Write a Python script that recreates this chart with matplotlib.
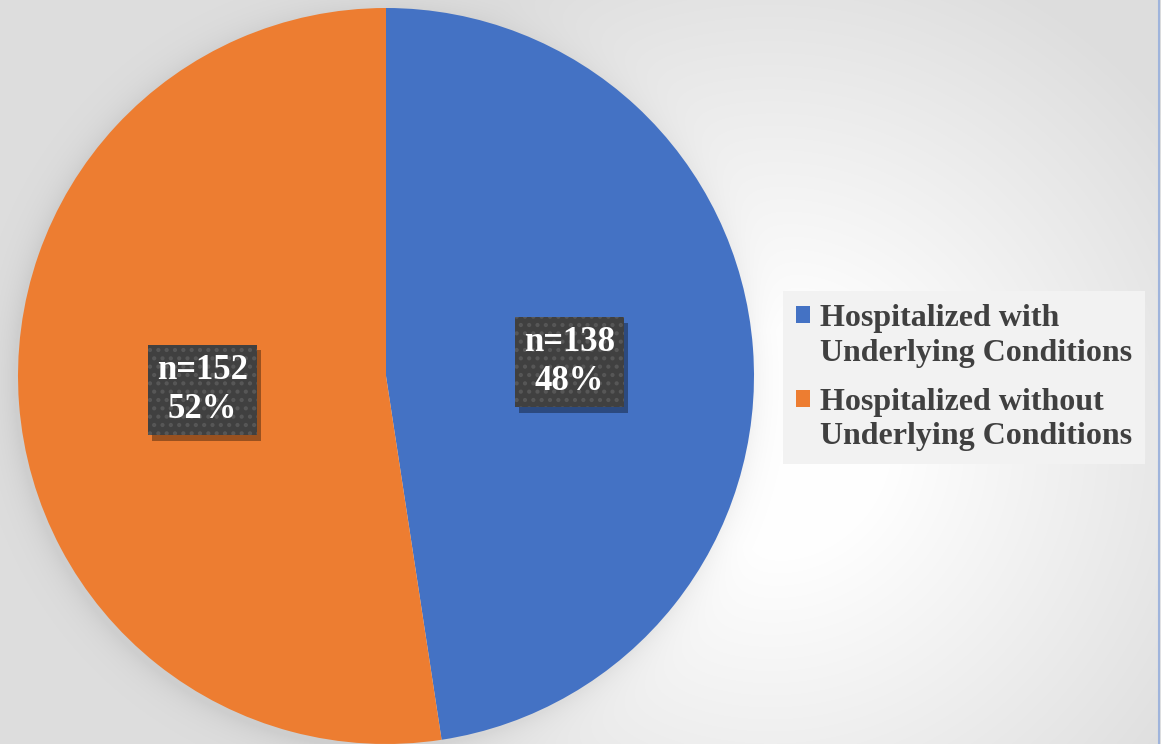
import numpy as np
import matplotlib
matplotlib.use("Agg")
import matplotlib.pyplot as plt
import matplotlib.patheffects as pe
from matplotlib.patches import Rectangle
from matplotlib.legend_handler import HandlerPatch

# data
labels = ["Hospitalized with\nUnderlying Conditions",
          "Hospitalized without\nUnderlying Conditions"]
counts = [138, 152]
colors = ["#4472C4", "#ED7D31"]

plt.rcParams["font.family"] = ["Liberation Serif", "DejaVu Serif"]
plt.rcParams["hatch.linewidth"] = 1.8

W, H = 1161, 744
cx, cy, R = 386, 376, 368

fig = plt.figure(figsize=(W / 100, H / 100), dpi=100)

# background: bright spot right of the pie, grey toward the edges, soft shadow round the pie
bg = fig.add_axes([0, 0, 1, 1], zorder=-5)
yy, xx = np.mgrid[0:H, 0:W]
d = np.hypot(xx - 770, yy - 440)
v = 1.0 - 0.13 * np.clip((d - 110) / 400, 0, 1)
dp = np.hypot(xx - (cx - 4), yy - (cy + 4)) - R
v = v - 0.06 * np.exp(-np.clip(dp, 0, None) / 14) * (dp > -10)
bg.imshow(np.dstack([v, v, v]), extent=[0, W, H, 0], aspect="auto")
bg.set_xlim(0, W)
bg.set_ylim(H, 0)
bg.axis("off")
bg.axvline(1158.5, color="#9fb4dc", lw=1.5)

# pie
ax = fig.add_axes([(cx - R) / W, (H - cy - R) / H, 2 * R / W, 2 * R / H])
total = sum(counts)


def fmt(p):
    n = int(round(p * total / 100))
    return f"n={n}\n{p:.0f}%"


class FlatShadow(pe.SimplePatchShadow):
    def draw_path(self, renderer, gc, tpath, affine, rgbFace):
        gc0 = renderer.new_gc()
        gc0.copy_properties(gc)
        gc0.set_hatch(None)
        gc0.set_linewidth(0)
        gc0.set_alpha(self._alpha)
        renderer.draw_path(gc0, tpath, affine + self._offset_transform(renderer),
                           self._shadow_rgbFace)
        gc0.restore()


wedges, texts, autotexts = ax.pie(counts, colors=colors, startangle=90,
                                  counterclock=False, autopct=fmt,
                                  pctdistance=0.5, radius=1,
                                  wedgeprops=dict(linewidth=0))
for t in autotexts:
    t.set_color("white")
    t.set_fontsize(25)
    t.set_fontweight("bold")
    t.set_linespacing(1.24)
    t.set_bbox(dict(boxstyle="square,pad=0.26", facecolor="#404040",
                    edgecolor="#575757", linewidth=0, hatch=".."))
    t.get_bbox_patch().set_path_effects(
        [FlatShadow(offset=(3, -4), shadow_rgbFace="black", alpha=0.35), pe.Normal()])
ax.set_xlim(-1, 1)
ax.set_ylim(-1, 1)
ax.set_aspect("equal")


def square_first_line(legend, orig_handle, xdescent, ydescent, width, height, fontsize):
    return Rectangle((-xdescent, -ydescent + 0.65 * fontsize), width, height)


leg = fig.legend(wedges, labels, loc="upper left",
                 bbox_to_anchor=(783 / W, 1 - 291 / H),
                 frameon=True, fancybox=False, framealpha=1,
                 facecolor="#f2f2f2", edgecolor="none",
                 prop=dict(family=["Liberation Serif"], weight="bold", size=23),
                 labelcolor="#404040",
                 handlelength=0.45, handleheight=0.45, handletextpad=0.32,
                 labelspacing=0.62, borderpad=0.4, borderaxespad=0,
                 handler_map={w: HandlerPatch(patch_func=square_first_line) for w in wedges})
for t in leg.get_texts():
    t.set_linespacing(1.27)

fig.savefig("out.png", dpi=100)
